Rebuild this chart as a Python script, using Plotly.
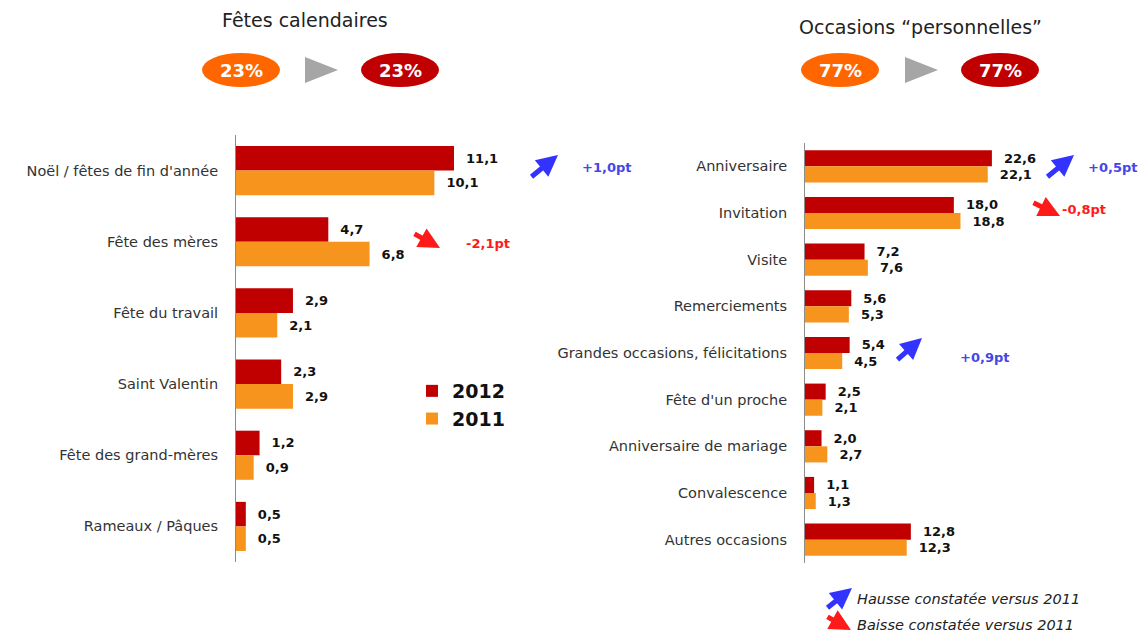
import plotly.graph_objects as go

# ---------------- data ----------------
cal_categories = ["Noël / fêtes de fin d'année", "Fête des mères", "Fête du travail",
                  "Saint Valentin", "Fête des grand-mères", "Rameaux / Pâques"]
cal_2012 = [11.1, 4.7, 2.9, 2.3, 1.2, 0.5]
cal_2011 = [10.1, 6.8, 2.1, 2.9, 0.9, 0.5]

pers_categories = ["Anniversaire", "Invitation", "Visite", "Remerciements",
                   "Grandes occasions, félicitations", "Fête d'un proche",
                   "Anniversaire de mariage", "Convalescence", "Autres occasions"]
pers_2012 = [22.6, 18.0, 7.2, 5.6, 5.4, 2.5, 2.0, 1.1, 12.8]
pers_2011 = [22.1, 18.8, 7.6, 5.3, 4.5, 2.1, 2.7, 1.3, 12.3]

share_cal = ["23%", "23%"]
share_pers = ["77%", "77%"]
series_names = ["2012", "2011"]

W, H = 1142, 632
C2012 = "#C00000"
C2011 = "#F7941D"
ORANGE = "#FF6600"
BLUE = "#3333FF"
RED = "#FF1A1A"
FONT = "DejaVu Sans"
NB = "\u00a0\u00a0"


def fmt(v):
    return NB + f"{v:.1f}".replace(".", ",")


def px(x, y):
    return x / W, 1 - y / H


fig = go.Figure()

for name, vals, col in [(series_names[0], cal_2012, C2012),
                        (series_names[1], cal_2011, C2011)]:
    fig.add_trace(go.Bar(
        y=cal_categories, x=vals, orientation="h", name=name,
        marker=dict(color=col, line=dict(width=0)),
        text=[fmt(v) for v in vals], textposition="outside",
        textfont=dict(family=FONT, size=13, color="#111", weight="bold"),
        cliponaxis=False, showlegend=True,
        xaxis="x", yaxis="y", hoverinfo="skip"))

for name, vals, col in [(series_names[0], pers_2012, C2012),
                        (series_names[1], pers_2011, C2011)]:
    fig.add_trace(go.Bar(
        y=pers_categories, x=vals, orientation="h", name=name,
        marker=dict(color=col, line=dict(width=0)),
        text=[fmt(v) for v in vals], textposition="outside",
        textfont=dict(family=FONT, size=13, color="#111", weight="bold"),
        cliponaxis=False, showlegend=False,
        xaxis="x2", yaxis="y2", hoverinfo="skip"))

lx0, lx1 = 236, 500
rx0, rx1 = 805, 1100
left_scale = 19.64
right_scale = 8.27
TICKFONT = dict(family=FONT, size=14.5, color="#333")

fig.update_layout(
    width=W, height=H,
    margin=dict(l=0, r=0, t=0, b=0),
    paper_bgcolor="white", plot_bgcolor="white",
    barmode="group", bargap=0.31, bargroupgap=0,
    font=dict(family=FONT, size=13, color="#333"),
    xaxis=dict(domain=[lx0 / W, lx1 / W], range=[0, (lx1 - lx0) / left_scale],
               visible=False, fixedrange=True),
    yaxis=dict(domain=[1 - 562 / H, 1 - 135 / H], range=[5.5, -0.5],
               showline=True, linecolor="#8c8c8c", linewidth=1,
               showgrid=False, zeroline=False, ticks="",
               ticklabelstandoff=14, tickfont=TICKFONT),
    xaxis2=dict(domain=[rx0 / W, rx1 / W], range=[0, (rx1 - rx0) / right_scale],
                visible=False, fixedrange=True, anchor="y2"),
    yaxis2=dict(domain=[1 - 563 / H, 1 - 143 / H], range=[8.5, -0.5],
                anchor="x2",
                showline=True, linecolor="#8c8c8c", linewidth=1,
                showgrid=False, zeroline=False, ticks="",
                ticklabelstandoff=14, tickfont=TICKFONT),
    legend=dict(x=412 / W, y=1 - 372 / H, xanchor="left", yanchor="top",
                font=dict(family=FONT, size=19, color="#111", weight="bold"),
                bgcolor="rgba(0,0,0,0)", tracegroupgap=0),
    showlegend=True,
)

shapes = []
annotations = []

for text, cx, cy in [("Fêtes calendaires", 305, 20), ("Occasions “personnelles”", 920, 27)]:
    x, y = px(cx, cy)
    annotations.append(dict(text=text, x=x, y=y, xref="paper", yref="paper",
                            xanchor="center", yanchor="middle", showarrow=False,
                            font=dict(family=FONT, size=19, color="#222")))


def bubble(cx, cy, color, label):
    x0, y0 = px(cx - 39, cy - 17)
    x1, y1 = px(cx + 39, cy + 17)
    shapes.append(dict(type="circle", xref="paper", yref="paper",
                       x0=x0, x1=x1, y0=y1, y1=y0, fillcolor=color,
                       line=dict(width=0)))
    x, y = px(cx, cy)
    annotations.append(dict(text=label, x=x, y=y, xref="paper", yref="paper",
                            showarrow=False, xanchor="center", yanchor="middle",
                            font=dict(family=FONT, size=18, color="white", weight="bold")))


def triangle(x0p, x1p, ymid):
    a = px(x0p, ymid - 13)
    b = px(x1p, ymid)
    c = px(x0p, ymid + 13)
    shapes.append(dict(type="path", xref="paper", yref="paper",
                       path=f"M {a[0]},{a[1]} L {b[0]},{b[1]} L {c[0]},{c[1]} Z",
                       fillcolor="#a6a6a6", line=dict(width=0)))


bubble(241, 70, ORANGE, share_cal[0])
bubble(400, 70, C2012, share_cal[1])
triangle(305, 338, 70)
bubble(840, 70, ORANGE, share_pers[0])
bubble(1000, 70, C2012, share_pers[1])
triangle(905, 938, 70)


def arrow(tail, head, color):
    hx, hy = px(*head)
    annotations.append(dict(x=hx, y=hy, xref="paper", yref="paper", text="",
                            showarrow=True, arrowhead=2, arrowsize=0.85, arrowwidth=5,
                            arrowcolor=color, ax=tail[0] - head[0], ay=tail[1] - head[1],
                            axref="pixel", ayref="pixel", standoff=0, startstandoff=0))


def delta_label(text, x, y, color):
    xx, yy = px(x, y)
    annotations.append(dict(text=text, x=xx, y=yy, xref="paper", yref="paper",
                            showarrow=False, xanchor="center", yanchor="middle",
                            font=dict(family=FONT, size=13, color=color, weight="bold")))


BLUE_TXT = "#4646E6"
arrow((530, 178), (558, 155), BLUE)
delta_label("+1,0pt", 606, 168, BLUE_TXT)
arrow((413, 233), (440, 248), RED)
delta_label("-2,1pt", 488, 243, RED)
arrow((1046, 178), (1074, 155), BLUE)
delta_label("+0,5pt", 1112, 168, BLUE_TXT)
arrow((1032, 202), (1060, 216), RED)
delta_label("-0,8pt", 1084, 209, RED)
arrow((896, 361), (922, 338), BLUE)
delta_label("+0,9pt", 984, 357, BLUE_TXT)

arrow((826, 609), (852, 588), BLUE)
arrow((826, 616), (851, 630), RED)
for text, y in [("Hausse constatée versus 2011", 599), ("Baisse constatée versus 2011", 625)]:
    xx, yy = px(855, y)
    annotations.append(dict(text=text, x=xx, y=yy, xref="paper", yref="paper",
                            showarrow=False, xanchor="left", yanchor="middle",
                            font=dict(family=FONT, size=14.5, color="#222", style="italic")))

fig.update_layout(shapes=shapes, annotations=annotations)

fig.write_html("out.html",
               config={"displayModeBar": False},
               post_script="document.body.style.margin='0';document.body.style.overflow='hidden';")
